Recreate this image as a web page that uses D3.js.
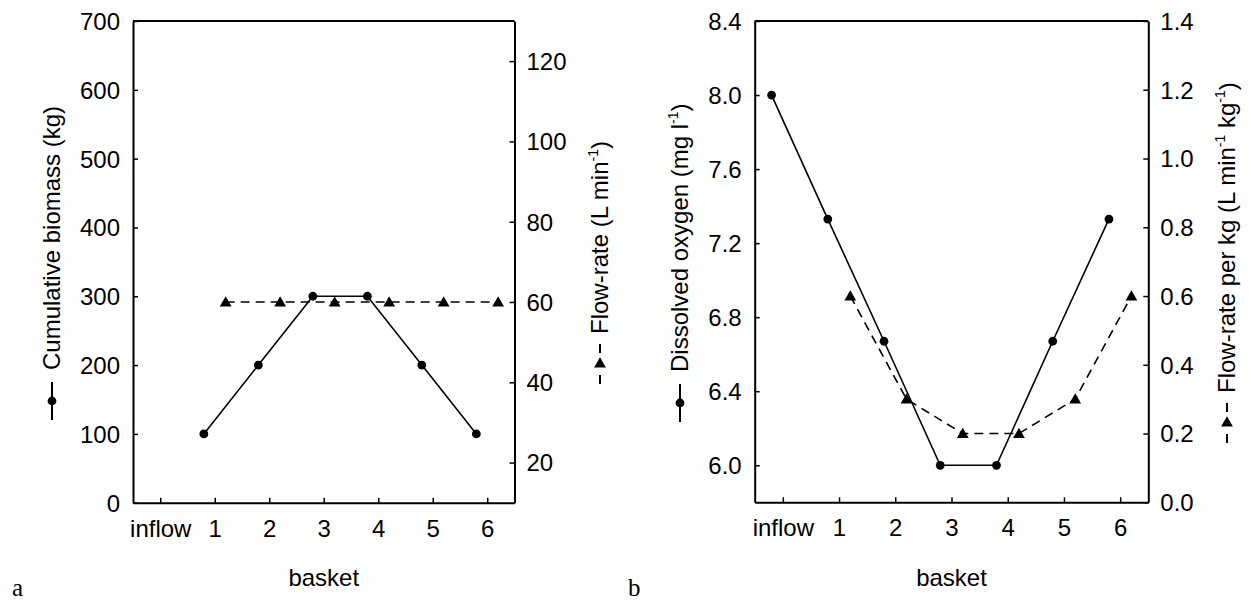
<!DOCTYPE html>
<html lang="en">
<head>
<meta charset="utf-8">
<title>Biomass and oxygen by basket</title>
<script src="https://cdn.jsdelivr.net/npm/d3@7"></script>
<style>
  body { margin: 0; background: #fff; }
  text { font-family: "Liberation Sans", Arial, sans-serif; fill: #000; }
  .panel-tag { font-family: "Liberation Serif", "Times New Roman", serif; }
</style>
</head>
<body>
<script>
// data
var baskets = ["inflow", "1", "2", "3", "4", "5", "6"]
var biomass = [null, 100, 200, 300, 300, 200, 100]      // kg, left panel, circles
var flowRate = [null, 60, 60, 60, 60, 60, 60]           // L/min, left panel, triangles
var oxygen = [8.0, 7.33, 6.67, 6.0, 6.0, 6.67, 7.33]    // mg/l, right panel, circles
var flowPerKg = [null, 0.6, 0.3, 0.2, 0.2, 0.3, 0.6]    // L/min/kg, right panel, triangles

var biomassTicks = [0, 100, 200, 300, 400, 500, 600, 700]
var flowTicks = [20, 40, 60, 80, 100, 120]
var oxygenTicks = [6.0, 6.4, 6.8, 7.2, 7.6, 8.0, 8.4]
var perKgTicks = [0, 0.2, 0.4, 0.6, 0.8, 1.0, 1.2, 1.4]

var W = 1251, H = 602
var FS = 24

var svg = d3.select("body").append("svg").attr("width", W).attr("height", H)

var tri = d3.symbol().type(d3.symbolTriangle).size(60)

function drawPanel(opt) {
  var g = svg.append("g")
  var x = d3.scaleLinear().domain([-0.5, 6.5]).range([opt.left, opt.right])
  var yL = d3.scaleLinear().domain(opt.leftDomain).range([opt.bottom, opt.top])
  var yR = d3.scaleLinear().domain(opt.rightDomain).range([opt.bottom, opt.top])

  // frame top line
  g.append("line").attr("x1", opt.left).attr("x2", opt.right)
    .attr("y1", opt.top).attr("y2", opt.top)
    .attr("stroke", "#000").attr("stroke-width", 2)

  var xAxis = d3.axisBottom(x).tickValues(d3.range(baskets.length))
    .tickFormat(function(i) { return baskets[i] })
    .tickSizeInner(-5).tickSizeOuter(0).tickPadding(17)
  var ga = g.append("g").attr("transform", "translate(0," + opt.bottom + ")").call(xAxis)

  var lAxis = d3.axisLeft(yL).tickValues(opt.leftTicks).tickFormat(opt.leftFmt)
    .tickSizeInner(-5).tickSizeOuter(0).tickPadding(13)
  var gl = g.append("g").attr("transform", "translate(" + opt.left + ",0)").call(lAxis)

  var rAxis = d3.axisRight(yR).tickValues(opt.rightTicks).tickFormat(opt.rightFmt)
    .tickSizeInner(-5).tickSizeOuter(0).tickPadding(12)
  var gr = g.append("g").attr("transform", "translate(" + opt.right + ",0)").call(rAxis)

  ;[ga, gl, gr].forEach(function(a) {
    a.select(".domain").attr("stroke-width", 2)
    a.selectAll(".tick line").attr("stroke-width", 1.5)
    a.selectAll("text").attr("font-size", FS).attr("font-family", null)
  })
  gl.selectAll("text").attr("dy", "0.35em")
  gr.selectAll("text").attr("dy", "0.35em")

  var sPts = opt.solid.map(function(v, i) { return { i: i, v: v } })
    .filter(function(d) { return d.v != null })
  var dPts = opt.dashed.map(function(v, i) { return { i: i, v: v } })
    .filter(function(d) { return d.v != null })

  // circles sit a little left of the tick, triangles a little right
  var lineS = d3.line().x(function(d) { return x(d.i - 0.2) }).y(function(d) { return yL(d.v) })
  var lineD = d3.line().x(function(d) { return x(d.i + 0.2) }).y(function(d) { return yR(d.v) })

  g.append("path").datum(dPts).attr("d", lineD).attr("fill", "none")
    .attr("stroke", "#000").attr("stroke-width", 1.6).attr("stroke-dasharray", "9,6")
  g.append("path").datum(sPts).attr("d", lineS).attr("fill", "none")
    .attr("stroke", "#000").attr("stroke-width", 1.6)

  g.selectAll(".dot").data(sPts).enter().append("circle")
    .attr("cx", function(d) { return x(d.i - 0.2) })
    .attr("cy", function(d) { return yL(d.v) })
    .attr("r", 4.4).attr("fill", "#000")
  g.selectAll(".tri").data(dPts).enter().append("path")
    .attr("d", tri)
    .attr("transform", function(d) { return "translate(" + x(d.i + 0.2) + "," + (yR(d.v) + 1) + ")" })
    .attr("fill", "#000")

  // x title
  g.append("text").attr("x", (opt.left + opt.right) / 2).attr("y", 586)
    .attr("text-anchor", "middle").attr("font-size", FS).text("basket")

  // panel tag
  svg.append("text").attr("class", "panel-tag").attr("x", opt.tagX).attr("y", 596)
    .attr("font-size", 25).text(opt.tag)
}

// rotated axis title with an inline series key
function keyTitle(cx, by, kind, parts) {
  var g = svg.append("g").attr("transform", "translate(" + cx + "," + by + ") rotate(-90)")
  if (kind == "solid") {
    g.append("line").attr("x1", 0).attr("x2", 38).attr("y1", 0).attr("y2", 0)
      .attr("stroke", "#000").attr("stroke-width", 2)
    g.append("circle").attr("cx", 19).attr("cy", 0).attr("r", 4.4).attr("fill", "#000")
  } else {
    g.append("line").attr("x1", 0).attr("x2", 9).attr("y1", 0).attr("y2", 0)
      .attr("stroke", "#000").attr("stroke-width", 2)
    g.append("line").attr("x1", 31).attr("x2", 40).attr("y1", 0).attr("y2", 0)
      .attr("stroke", "#000").attr("stroke-width", 2)
    g.append("path").attr("d", tri).attr("transform", "translate(20,0) rotate(90)").attr("fill", "#000")
  }
  var t = g.append("text").attr("x", 50).attr("y", 0).attr("dy", "0.35em").attr("font-size", FS)
  parts.forEach(function(p) {
    var s = t.append("tspan").text(p[0])
    if (p[1] == "sup") s.attr("font-size", 14).attr("dy", "-0.75em")
    if (p[1] == "down") s.attr("dy", "0.44em")
  })
}

drawPanel({
  left: 133, right: 514.5, top: 21, bottom: 502.7,
  leftDomain: [0, 700], rightDomain: [10, 130],
  leftTicks: biomassTicks, rightTicks: flowTicks,
  leftFmt: d3.format("d"), rightFmt: d3.format("d"),
  solid: biomass, dashed: flowRate, tag: "a", tagX: 12
})
drawPanel({
  left: 754.7, right: 1148.3, top: 21, bottom: 502.3,
  leftDomain: [5.8, 8.4], rightDomain: [0, 1.4],
  leftTicks: oxygenTicks, rightTicks: perKgTicks,
  leftFmt: d3.format(".1f"), rightFmt: d3.format(".1f"),
  solid: oxygen, dashed: flowPerKg, tag: "b", tagX: 628
})

keyTitle(52, 420, "solid", [["Cumulative biomass (kg)"]])
keyTitle(600, 384, "dashed", [["Flow-rate (L min"], ["-1", "sup"], [")", "down"]])
keyTitle(680, 422, "solid", [["Dissolved oxygen (mg l"], ["-1", "sup"], [")", "down"]])
keyTitle(1227, 443, "dashed", [["Flow-rate per kg (L min"], ["-1", "sup"], [" kg", "down"], ["-1", "sup"], [")", "down"]])
</script>
</body>
</html>
